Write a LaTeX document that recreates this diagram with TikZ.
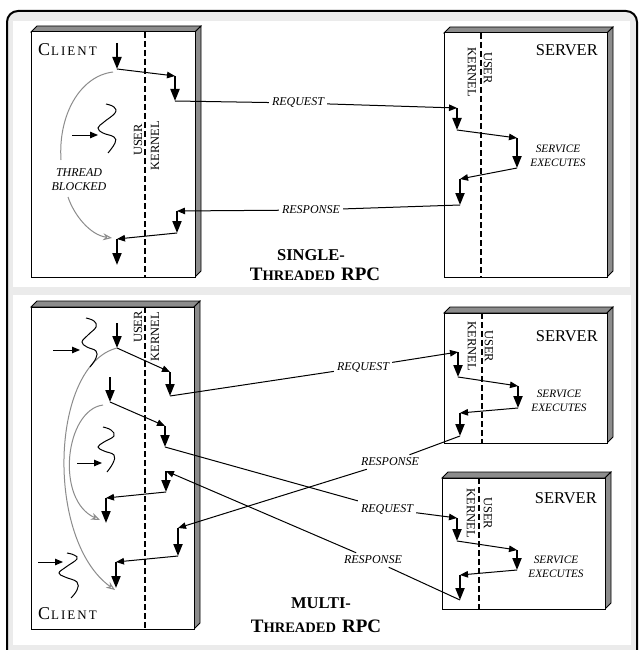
\documentclass[tikz,border=0pt]{standalone}
\usepackage{fontspec}
\setmainfont{Liberation Serif}
\usetikzlibrary{arrows.meta}
\newcommand\tdbox[4]{%
  \draw[sideface] (#1,#2) -- (#1+6,#2-6) -- (#3+6,#2-6) -- (#3,#2) -- cycle;
  \draw[sideface] (#3,#2) -- (#3+6,#2-6) -- (#3+6,#4-6) -- (#3,#4) -- cycle;
  \draw[frontface] (#1,#2) rectangle (#3,#4);}
\newcommand\clientword{{\fontsize{18}{18}\selectfont C}\kern1pt{\fontsize{13}{13}\selectfont L\kern2pt I\kern2pt E\kern2pt N\kern2pt T}}
\newcommand\threadedrpc{{\fontsize{19}{19}\selectfont T}{\fontsize{14.5}{14.5}\selectfont HREADED}\hspace{6pt}{\fontsize{19}{19}\selectfont RPC}}
\tikzset{
  thinarr/.style={line width=1pt, -{Triangle[length=8pt,width=6.5pt]}},
  thickarr/.style={line width=2pt, -{Triangle[length=12pt,width=9pt]}},
  plainline/.style={line width=1pt},
  grayarc/.style={draw=black!45, line width=1pt},
  grayarr/.style={grayarc, -{Stealth[open,length=9pt,width=7pt]}},
  lbl/.style={font=\fontsize{12}{14}\selectfont\itshape, inner sep=3pt},
  selbl/.style={font=\fontsize{11.3}{14.5}\selectfont\itshape, inner sep=3pt, align=center},
  frontface/.style={draw=black, line width=1pt, fill=white},
  sideface/.style={draw=black, line width=0.8pt, fill=black!45},
  vtext/.style={font=\fontsize{12.5}{12.5}\selectfont, inner sep=0pt},
  divider/.style={line width=1.3pt, dash pattern=on 6pt off 3pt},
  squig/.style={line width=1pt},
  bigname/.style={font=\fontsize{16.5}{16.5}\selectfont, inner sep=0pt},
  ttl/.style={font=\bfseries, inner sep=0pt},
}
\begin{document}
\begin{tikzpicture}[x=1pt,y=-1pt]
\useasboundingbox (0,0) rectangle (641,650);
\clip (0,0) rectangle (641,650);
\fill[white] (0,0) rectangle (641,650);
% frame and panels
\draw[line width=2pt, rounded corners=11pt, fill=black!8] (7,11) rectangle (637,668);
\fill[white] (13,21) rectangle (630,287);
\fill[white] (13,295) rectangle (631,645);

% ================= TOP PANEL =================
\tdbox{31}{32}{195}{277}
\tdbox{444}{33}{607}{277}
\draw[divider] (145,32) -- (145,277);
\draw[divider] (481,33) -- (481,277);

\node[bigname, anchor=base west] (clientA) at (38,56) {\clientword};
\node[bigname, anchor=base east] (serverA) at (598,56) {SERVER};
\node[vtext, rotate=90] (userA) at (138,140) {USER};
\node[vtext, rotate=90] (kernA) at (155,146) {KERNEL};
\node[vtext, rotate=-90] (kernS0) at (472,72) {KERNEL};
\node[vtext, rotate=-90] (userS0) at (488,68) {USER};

\node[lbl] (rq0) at (298,103) {REQUEST};
\node[lbl] (rs0) at (311,210) {RESPONSE};
\node[selbl] (se0) at (558,156) {SERVICE\\EXECUTES};
\node[lbl, align=center] (tb) at (79,180) {THREAD\\BLOCKED};

\node[ttl, anchor=base] (t1a) at (311,260) {\fontsize{16.5}{16.5}\selectfont SINGLE-};
\node[ttl, anchor=base] (t1b) at (315,280) {\threadedrpc};

% client flow
\coordinate (c1a) at (117,43);
\coordinate (c1b) at (117,69);
\coordinate (c1c) at (175,76);
\coordinate (c1d) at (175,101);
\coordinate (c1e) at (177,211);
\coordinate (c1f) at (177,233);
\coordinate (c1g) at (117,239);
\coordinate (c1h) at (117,265);
% server flow
\coordinate (s0a) at (457,108);
\coordinate (s0b) at (457,130);
\coordinate (s0c) at (517,138);
\coordinate (s0d) at (517,168);
\coordinate (s0e) at (460,179);
\coordinate (s0f) at (460,205);

\draw[thickarr] (c1a) -- (c1b);
\draw[thinarr] (c1b) -- (c1c);
\draw[thickarr] (c1c) -- (c1d);
\draw[plainline] (c1d) -- (rq0);
\draw[thinarr] (rq0) -- (s0a);
\draw[thickarr] (s0a) -- (s0b);
\draw[thinarr] (s0b) -- (s0c);
\draw[thickarr] (s0c) -- (s0d);
\draw[thinarr] (s0d) -- (s0e);
\draw[thickarr] (s0e) -- (s0f);
\draw[plainline] (s0f) -- (rs0);
\draw[thinarr] (rs0) -- (c1e);
\draw[thickarr] (c1e) -- (c1f);
\draw[thinarr] (c1f) -- (c1g);
\draw[thickarr] (c1g) -- (c1h);

% thread blocked arcs
\coordinate (ga0) at (113,72);
\coordinate (ga1) at (61,160);
\coordinate (ga2) at (68,197);
\coordinate (ga3) at (112,238);
\draw[grayarc] (ga0) .. controls (80,76) and (58,115) .. (ga1);
\draw[grayarr] (ga2) .. controls (74,215) and (90,235) .. (ga3);

% squiggle top
\draw[squig] plot[smooth, tension=0.7] coordinates {(106,104) (114,107) (115,113) (104,122) (98,128) (103,133) (114,137) (115,143) (108,153)};
\coordinate (sq0s) at (72,135);
\coordinate (sq0e) at (98,135);
\draw[thinarr] (sq0s) -- (sq0e);

% ================= BOTTOM PANEL =================
\tdbox{31}{307}{194}{629}
\tdbox{444}{313}{607}{443}
\tdbox{442}{478}{605}{609}
\draw[divider] (145,307) -- (145,629);
\draw[divider] (482,313) -- (482,443);
\draw[divider] (479,478) -- (479,609);

\node[bigname, anchor=base west] (clientB) at (38,619) {\clientword};
\node[bigname, anchor=base east] (serverB1) at (598,341) {SERVER};
\node[bigname, anchor=base east] (serverB2) at (597,503) {SERVER};
\node[vtext, rotate=90] (userB) at (138,327) {USER};
\node[vtext, rotate=90] (kernB) at (155,337) {KERNEL};
\node[vtext, rotate=-90] (kernS1) at (472,346) {KERNEL};
\node[vtext, rotate=-90] (userS1) at (489,346) {USER};
\node[vtext, rotate=-90] (kernS2) at (471,513) {KERNEL};
\node[vtext, rotate=-90] (userS2) at (488,513) {USER};

\node[lbl] (rq1) at (363,367) {REQUEST};
\node[lbl] (rs1) at (390,462) {RESPONSE};
\node[lbl] (rq2) at (387,509) {REQUEST};
\node[lbl] (rs2) at (373,560) {RESPONSE};
\node[selbl] (se1) at (559,401) {SERVICE\\EXECUTES};
\node[selbl] (se2) at (556,567) {SERVICE\\EXECUTES};

\node[ttl, anchor=base] (t2a) at (321,608) {\fontsize{16.5}{16.5}\selectfont MULTI-};
\node[ttl, anchor=base] (t2b) at (316,632) {\threadedrpc};

% thread 1
\coordinate (d1a) at (117,323);
\coordinate (d1b) at (117,348);
\coordinate (d1c) at (170,372);
\coordinate (d1d) at (170,396);
% thread 2
\coordinate (d2a) at (110,377);
\coordinate (d2b) at (110,402);
\coordinate (d2c) at (165,426);
\coordinate (d2d) at (165,447);
% response slot upper
\coordinate (d3a) at (166,471);
\coordinate (d3b) at (166,492);
\coordinate (d3c) at (106,498);
\coordinate (d3d) at (106,523);
% response slot lower
\coordinate (d4a) at (178,528);
\coordinate (d4b) at (178,556);
\coordinate (d4c) at (116,562);
\coordinate (d4d) at (116,588);
% server 1
\coordinate (e1a) at (458,352);
\coordinate (e1b) at (458,377);
\coordinate (e1c) at (518,386);
\coordinate (e1d) at (518,408);
\coordinate (e1e) at (460,413);
\coordinate (e1f) at (460,436);
% server 2
\coordinate (f1a) at (457,518);
\coordinate (f1b) at (457,541);
\coordinate (f1c) at (517,550);
\coordinate (f1d) at (517,570);
\coordinate (f1e) at (460,575);
\coordinate (f1f) at (460,600);

\draw[thickarr] (d1a) -- (d1b);
\draw[thinarr] (d1b) -- (d1c);
\draw[thickarr] (d1c) -- (d1d);
\draw[plainline] (d1d) -- (rq1);
\draw[thinarr] (rq1) -- (e1a);
\draw[thickarr] (e1a) -- (e1b);
\draw[thinarr] (e1b) -- (e1c);
\draw[thickarr] (e1c) -- (e1d);
\draw[thinarr] (e1d) -- (e1e);
\draw[thickarr] (e1e) -- (e1f);
\draw[plainline] (e1f) -- (rs1);
\draw[thinarr] (rs1) -- (d4a);

\draw[thickarr] (d2a) -- (d2b);
\draw[thinarr] (d2b) -- (d2c);
\draw[thickarr] (d2c) -- (d2d);
\draw[plainline] (d2d) -- (rq2);
\draw[thinarr] (rq2) -- (f1a);
\draw[thickarr] (f1a) -- (f1b);
\draw[thinarr] (f1b) -- (f1c);
\draw[thickarr] (f1c) -- (f1d);
\draw[thinarr] (f1d) -- (f1e);
\draw[thickarr] (f1e) -- (f1f);
\draw[plainline] (f1f) -- (rs2);
\draw[thinarr] (rs2) -- (d3a);

\draw[thickarr] (d3a) -- (d3b);
\draw[thinarr] (d3b) -- (d3c);
\draw[thickarr] (d3c) -- (d3d);
\draw[thickarr] (d4a) -- (d4b);
\draw[thinarr] (d4b) -- (d4c);
\draw[thickarr] (d4c) -- (d4d);

% gray arcs
\coordinate (gb0) at (117,348);
\coordinate (gb1) at (115,590);
\coordinate (gc0) at (103,405);
\coordinate (gc1) at (100,520);
\draw[grayarr] (gb0) .. controls (50,365) and (45,540) .. (gb1);
\draw[grayarr] (gc0) .. controls (65,410) and (55,500) .. (gc1);

% squiggles
\draw[squig] plot[smooth, tension=0.7] coordinates {(86,318) (94,321) (96,327) (88,335) (82,342) (87,347) (96,351) (96,358) (90,367)};
\draw[squig] plot[smooth, tension=0.7] coordinates {(103,427) (111,430) (114,436) (104,442) (98,447) (104,451) (114,455) (113,463) (107,472)};
\draw[squig] plot[smooth, tension=0.7] coordinates {(67,553) (74,555) (77,559) (66,567) (59,573) (65,577) (77,582) (77,590) (71,598)};
\coordinate (sq1s) at (53,350);
\coordinate (sq1e) at (80,350);
\coordinate (sq2s) at (77,463);
\coordinate (sq2e) at (102,463);
\coordinate (sq3s) at (38,562);
\coordinate (sq3e) at (63,562);
\draw[thinarr] (sq1s) -- (sq1e);
\draw[thinarr] (sq2s) -- (sq2e);
\draw[thinarr] (sq3s) -- (sq3e);
\end{tikzpicture}
\end{document}
